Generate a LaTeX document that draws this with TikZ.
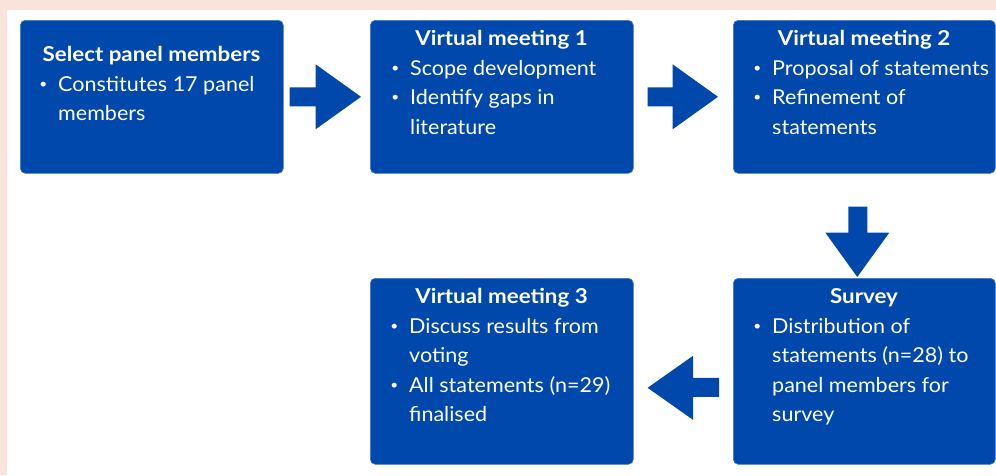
\documentclass[tikz,border=0pt]{standalone}
\usepackage{fontspec}
\setmainfont{Lato}[FakeStretch=1.05, BoldFeatures={FakeStretch=1.09}]
\usetikzlibrary{calc}
\definecolor{framepink}{RGB}{249,227,218}
\definecolor{boxblue}{RGB}{0,72,171}
\definecolor{boxedge}{RGB}{70,120,200}
% small bullet hung to the left of the item text
\newcommand{\bul}{\leavevmode\llap{\raisebox{2.6pt}{\fontsize{13}{13}\selectfont\textbullet}\hspace{11pt}}}
\begin{document}
\begin{tikzpicture}[x=1pt,y=-1pt,
  stage/.style={draw=boxedge, line width=0.6pt, fill=boxblue, rounded corners=5pt},
  ttl/.style={font=\bfseries\fontsize{20.5}{29.5}\selectfont, text=white, anchor=base, inner sep=0pt},
  body/.style={font=\fontsize{20.5}{29.5}\selectfont, text=white, anchor=base west, inner sep=0pt},
  flow/.style={fill=boxblue, draw=none}]
  % frame
  \fill[framepink] (0,0) rectangle (996,475);
  \fill[white] (7,10) rectangle (996,475);
  \useasboundingbox (0,0) rectangle (996,475);

  % stage boxes
  \node[stage, minimum width=263pt, minimum height=153pt, anchor=north west] (b1) at (20,20) {};
  \node[stage, minimum width=263pt, minimum height=153pt, anchor=north west] (b2) at (370,20) {};
  \node[stage, minimum width=262pt, minimum height=153pt, anchor=north west] (b3) at (733,20) {};
  \node[stage, minimum width=262pt, minimum height=186pt, anchor=north west] (b4) at (733,278) {};
  \node[stage, minimum width=263pt, minimum height=186pt, anchor=north west] (b5) at (370,278) {};

  % titles
  \node[ttl] (t1) at (151.5,61) {Select panel members};
  \node[ttl] (t2) at (501.5,45) {Virtual meeting 1};
  \node[ttl] (t3) at (864,45) {Virtual meeting 2};
  \node[ttl] (t4) at (864,303) {Survey};
  \node[ttl] (t5) at (501.5,303) {Virtual meeting 3};

  % bullet lists
  \node[body] (l1) at (58,91) {\parbox[t]{220pt}{\baselineskip=29.5pt
    \bul Constitutes 17 panel\\
    members}};
  \node[body] (l2) at (410,75) {\parbox[t]{220pt}{\baselineskip=29.5pt
    \bul Scope development\\
    \bul Identify gaps in\\
    literature}};
  \node[body] (l3) at (772,75) {\parbox[t]{220pt}{\baselineskip=29.5pt
    \bul Proposal of statements\\
    \bul Refinement of\\
    statements}};
  \node[body] (l4) at (772,333) {\parbox[t]{220pt}{\baselineskip=29.5pt
    \bul Distribution of\\
    statements (n=28) to\\
    panel members for\\
    survey}};
  \node[body] (l5) at (409,333) {\parbox[t]{220pt}{\baselineskip=29.5pt
    \bul Discuss results from\\
    voting\\
    \bul All statements (n=29)\\
    finalised}};

  % block arrows between stages
  \fill[flow] ($(b1.east)+(6,-9.5)$) -- ++(26,0) -- ++(0,-23) -- ($(b2.west)+(-9,0)$)
    -- ($(b1.east)+(32,32.5)$) -- ++(0,-23) -- ++(-26,0) -- cycle;
  \fill[flow] ($(b2.east)+(14,-9.5)$) -- ++(25,0) -- ++(0,-23) -- ($(b3.west)+(-15,0)$)
    -- ($(b2.east)+(39,32.5)$) -- ++(0,-23) -- ++(-25,0) -- cycle;
  \fill[flow] ($(b3.south)+(-16,33)$) -- ++(0,26) -- ++(-23,0) -- ($(b4.north)+(-7,-1)$)
    -- ($(b3.south)+(25,59)$) -- ++(-22,0) -- ++(0,-26) -- cycle;
  \fill[flow] ($(b4.west)+(-14,6.5)$) -- ++(-26,0) -- ++(0,-22) -- ($(b5.east)+(14,16.5)$)
    -- ($(b4.west)+(-40,48.5)$) -- ++(0,-23) -- ++(26,0) -- cycle;
\end{tikzpicture}
\end{document}
